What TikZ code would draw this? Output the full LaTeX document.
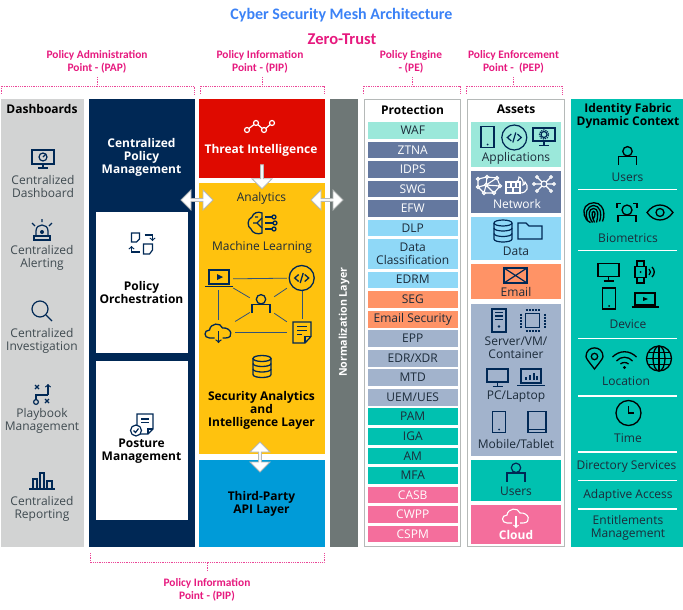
\documentclass[tikz,border=0pt]{standalone}
\usepackage{fontspec}
\setmainfont{Open Sans}
\newfontfamily\calfont{Carlito}
\usetikzlibrary{arrows,shapes.arrows}
\definecolor{titleblue}{HTML}{3B82F6}
\definecolor{zeropink}{HTML}{E6197E}
\definecolor{dashgrey}{HTML}{D2D3D3}
\definecolor{navyink}{HTML}{002855}
\definecolor{threatred}{HTML}{DF0A00}
\definecolor{layeryellow}{HTML}{FFC20E}
\definecolor{apiblue}{HTML}{009BD8}
\definecolor{normgrey}{HTML}{6E7776}
\definecolor{frameg}{HTML}{B5B9B8}
\definecolor{mintc}{HTML}{9BE8DA}
\definecolor{slatec}{HTML}{64789F}
\definecolor{skyc}{HTML}{8FD8F7}
\definecolor{orangec}{HTML}{FF9366}
\definecolor{steelc}{HTML}{A2B3CC}
\definecolor{tealc}{HTML}{00C1B0}
\definecolor{pinkc}{HTML}{F46E9C}
\definecolor{greytext}{HTML}{3F4A50}
\definecolor{inktext}{HTML}{1C2B3A}
\tikzset{
  panel/.style={rectangle, inner sep=0pt, minimum width=#1},
  framebox/.style={rectangle, draw=frameg, line width=1.4pt, fill=white, inner sep=0pt, minimum width=96.5pt, minimum height=447pt},
  item/.style={rectangle, inner sep=0pt, minimum width=90.5pt, minimum height=17.5pt, fill=#1, draw=white, line width=0.2pt, font=\fontsize{12}{12.8}\selectfont, text=inktext, align=center},
  asset/.style={rectangle, inner sep=0pt, minimum width=90.5pt, fill=#1},
  lbl/.style={inner sep=0pt, align=center, font=\fontsize{12}{13}\selectfont, text=greytext},
  boldlbl/.style={inner sep=0pt, align=center, font=\fontsize{12}{13}\selectfont\bfseries, text=#1},
  pinklbl/.style={inner sep=0pt, align=center, font=\calfont\fontsize{11.4}{13}\selectfont\bfseries, text=zeropink},
  bracket/.style={draw=zeropink!80, densely dotted, line width=0.8pt},
  sepbar/.style={rectangle, inner sep=0pt, fill=white, minimum width=99pt, minimum height=1.4pt},
  bigarrow/.style={double arrow, draw=frameg, fill=white, line width=0.8pt, inner sep=0pt, double arrow head extend=2.5pt, minimum width=20pt, minimum height=#1},
  hubspot/.style={rectangle, inner sep=0pt, minimum width=#1},
  hubline/.style={draw=navyink!80, line width=0.8pt},
  usericon/.pic={\draw (0,-4.7) circle[radius=4.7pt]; \draw (-9,9) -- (-9,0.5) -- (9,0.5) -- (9,9);},
  gaugeicon/.pic={\draw (-11,-8) rectangle (11,6); \draw (0,6) -- (0,10) (-5,10) -- (5,10); \draw (0,-1) circle[radius=4pt]; \draw (0,-1) -- (3,-4);},
  alarmicon/.pic={\draw (-6,5) -- (-6,0) .. controls (-6,-8) and (6,-8) .. (6,0) -- (6,5); \draw (-8,5) rectangle (8,9); \draw (-10,-8) -- (-7,-5) (0,-12) -- (0,-9) (10,-8) -- (7,-5); \fill (0,1) circle[radius=2pt];},
  lensicon/.pic={\draw (-2,-2) circle[radius=8pt]; \draw (4,4) -- (10,10);},
  playicon/.pic={\draw (-6,8) circle[radius=2.4pt]; \draw (-6,5.6) -- (-6,1) -- (6,1); \draw[->] (6,1) -- (6,-10); \draw (-7,-9) -- (-3,-5) (-7,-5) -- (-3,-9) (3,5) -- (7,9) (3,9) -- (7,5);},
  barsicon/.pic={\draw (-13,8) -- (13,8); \draw (-9,8) -- (-9,-2) -- (-5,-2) -- (-5,8) (-2,8) -- (-2,-8) -- (2,-8) -- (2,8) (5,8) -- (5,0) -- (10,0) -- (10,8);},
  syncicon/.pic={\draw (-10,-10) -- (-2,-10) -- (-2,-4) -- (-5,-1) -- (-10,-1) -- cycle; \draw (2,1) -- (11,1) -- (11,7) -- (8,11) -- (2,11) -- cycle; \draw[->] (3,-8) -- (11,-8) -- (11,-2); \draw[->] (-2,9) -- (-10,9) -- (-10,3);},
  postureicon/.pic={\draw (-4,-11) -- (12,-11) -- (12,4) -- (7,9) -- (-4,9) -- cycle; \draw (7,9) -- (7,4) -- (12,4); \draw (0,-6) -- (8,-6) (0,-2.5) -- (8,-2.5); \draw[fill=white] (-5,5.5) circle[radius=5.5pt]; \draw (-7.5,5.5) -- (-5.5,7.5) -- (-2.5,3.5);},
  trendicon/.pic={\draw (-13,4) -- (-4,-3) -- (4,4) -- (12,-3); \draw[fill=threatred] (-13,4) circle[radius=2.5pt] (-4,-3) circle[radius=2.5pt] (4,4) circle[radius=2.5pt] (12,-3) circle[radius=2.5pt];},
  brainicon/.pic={\draw (-1,-10) .. controls (-5,-12) and (-10,-10) .. (-11,-6) .. controls (-16,-4) and (-16,4) .. (-12,6) .. controls (-11,10) and (-5,12) .. (-1,10) -- cycle; \draw (-1,5) -- (-6,0) -- (-1,-5) (-6,0) -- (-10,0) (-8,-6) -- (-5,-6); \draw (2,-6) -- (9,-6) (2,0) -- (10,0) (2,6) -- (9,6); \draw (11,-6) circle[radius=2pt] (12,0) circle[radius=2pt] (11,6) circle[radius=2pt];},
  laptopicon/.pic={\draw (-10,-7) rectangle (10,7); \draw (-14,9.5) -- (14,9.5); \fill (-2,-3) -- (4,0) -- (-2,3) -- cycle;},
  codeicon/.pic={\draw (0,0) circle[radius=12.5pt]; \draw (-3,-3.5) -- (-7,0) -- (-3,3.5) (3,-3.5) -- (7,0) -- (3,3.5) (1.5,-5) -- (-1.5,5);},
  cloudicon/.pic={\draw (-4,5) -- (-9,5) .. controls (-15,5) and (-15,-3) .. (-9,-3) .. controls (-8,-10) and (2,-11) .. (4,-5) .. controls (13,-6) and (16,5) .. (7,5) -- (4,5); \draw[->] (0,-2) -- (0,10);},
  noteicon/.pic={\draw (-9,-10.5) -- (9,-10.5) -- (9,4) -- (3,10.5) -- (-9,10.5) -- cycle; \draw (3,10.5) -- (3,4) -- (9,4); \draw (-5,-6) -- (5,-6) (-5,-2) -- (5,-2) (-5,2) -- (0,2);},
  dbicon/.pic={\draw (0,-8) ellipse[x radius=9pt, y radius=3pt]; \draw (-9,-8) -- (-9,8) .. controls (-9,12) and (9,12) .. (9,8) -- (9,-8); \draw (-9,-3) .. controls (-9,1) and (9,1) .. (9,-3) (-9,2.5) .. controls (-9,6.5) and (9,6.5) .. (9,2.5);},
  phoneicon/.pic={\draw (-6.5,-10.5) rectangle (6.5,10.5); \fill (0,7.5) circle[radius=1pt];},
  tableticon/.pic={\draw (-9,-10.5) rectangle (9,10.5); \draw (-9,7.5) -- (9,7.5);},
  gearicon/.pic={\draw (-11,-9) rectangle (11,4); \draw (0,4) -- (0,8) (-5,8.5) -- (5,8.5); \draw (0,-2.5) circle[radius=3pt]; \draw[densely dotted] (0,-2.5) circle[radius=4.6pt];},
  meshicon/.pic={\draw (-11,-6) -- (-2,-8) -- (8,-7) -- (11,1) -- (5,8) -- (-5,8) -- (-11,2) -- cycle (-2,-8) -- (-3,0) -- (5,8) (-3,0) -- (8,-7) (-3,0) -- (-11,2) (-3,0) -- (-5,8) (-3,0) -- (11,1); \draw[fill=slatec] (-11,-6) circle[radius=1.5pt] (-2,-8) circle[radius=1.5pt] (8,-7) circle[radius=1.5pt] (11,1) circle[radius=1.5pt] (5,8) circle[radius=1.5pt] (-5,8) circle[radius=1.5pt] (-11,2) circle[radius=1.5pt] (-3,0) circle[radius=1.5pt];},
  wallicon/.pic={\draw (-11,-3) rectangle (3,8); \draw (-11,2.5) -- (3,2.5) (-6,-3) -- (-6,2.5) (-1,-3) -- (-1,2.5) (-4,2.5) -- (-4,8); \draw (3,8) .. controls (11,8) and (12,1) .. (8,-3) .. controls (8,-1) and (7,0) .. (6,0) .. controls (7,-4) and (5,-7) .. (2,-8) .. controls (3,-5) and (0,-4) .. (-1,-3);},
  hubicon/.pic={\draw (0,0) circle[radius=3pt]; \draw (2,-2) -- (6,-6) (3,0) -- (9,0) (2,2) -- (6,6) (-2,2) -- (-6,6) (-2,-2) -- (-6,-6) (-3,0) -- (-9,0); \draw (7,-7) circle[radius=1.4pt] (10,0) circle[radius=1.4pt] (7,7) circle[radius=1.4pt] (-7,7) circle[radius=1.4pt] (-7,-7) circle[radius=1.4pt] (-10,0) circle[radius=1.4pt];},
  foldericon/.pic={\draw (-12,-8) -- (-4,-8) -- (-1,-5) -- (12,-5) -- (12,8) -- (-12,8) -- cycle;},
  mailicon/.pic={\draw (-11.5,-7.5) rectangle (11.5,7.5); \draw (-11.5,-7.5) -- (11.5,7.5) (-11.5,7.5) -- (11.5,-7.5);},
  servericon/.pic={\draw (-7,-11.5) rectangle (7,11.5); \draw (-4,-8) -- (4,-8) (-4,-4.5) -- (4,-4.5) (-4,-1) -- (4,-1); \fill (0,6) circle[radius=1.4pt];},
  chipicon/.pic={\draw (-7,-7) rectangle (7,7); \draw[densely dotted, line width=2pt] (-7,-10.5) -- (7,-10.5) (-7,10.5) -- (7,10.5) (-12,-7) -- (-12,7) (12,-7) -- (12,7);},
  screenicon/.pic={\draw (-10.5,-9) rectangle (10.5,4); \draw (0,4) -- (0,8) (-5,8.5) -- (5,8.5);},
  charticon/.pic={\draw (-10,-8) rectangle (10,6); \draw (-14,8.5) -- (14,8.5); \draw (-5,3) -- (-5,0) (-1,3) -- (-1,-2) (3,3) -- (3,-4) (6,3) -- (6,-1);},
  printicon/.pic={\draw (-3,10) .. controls (-10,7) and (-11,-2) .. (-8,-6) .. controls (-4,-11) and (5,-11) .. (8,-6) .. controls (11,-2) and (11,4) .. (9,9); \draw (-6,8) .. controls (-9,2) and (-7,-6) .. (0,-7) .. controls (6,-7) and (9,0) .. (6,9); \draw (-1,10) .. controls (-6,3) and (-5,-4) .. (0,-4) .. controls (5,-4) and (5,2) .. (3,10); \draw (1,10) .. controls (-2,4) and (-2,-1) .. (0,-1) .. controls (2,-1) and (2,3) .. (0,6);},
  faceicon/.pic={\draw (0,-2.5) circle[radius=5pt]; \draw (-9,9) -- (-9,3) -- (9,3) -- (9,9); \draw (-10,-5) -- (-10,-9) -- (-6,-9) (6,-9) -- (10,-9) -- (10,-5);},
  eyeicon/.pic={\draw (-13,0) .. controls (-6,-10) and (6,-10) .. (13,0) .. controls (6,10) and (-6,10) .. (-13,0) -- cycle; \draw (0,0) circle[radius=4pt];},
  watchicon/.pic={\draw (-8,-5.5) rectangle (3,5.5); \draw (-6,-5.5) -- (-6,-11) -- (1,-11) -- (1,-5.5) (-6,5.5) -- (-6,11) -- (1,11) -- (1,5.5); \fill (-2.5,0) circle[radius=1pt]; \draw (6,-3) .. controls (8,-1) and (8,1) .. (6,3) (9,-5) .. controls (12,-2) and (12,2) .. (9,5);},
  videoicon/.pic={\draw (-10,-7) rectangle (10,5); \draw (-13.5,7) -- (13.5,7); \fill (-2,-3) -- (3,-1) -- (-2,1) -- cycle;},
  pinicon/.pic={\draw (0,10.5) .. controls (-5,4) and (-8.5,0) .. (-8.5,-2) .. controls (-8.5,-13.5) and (8.5,-13.5) .. (8.5,-2) .. controls (8.5,0) and (5,4) .. (0,10.5) -- cycle; \draw (0,-2) circle[radius=3.2pt];},
  wifiicon/.pic={\draw (-12,-3) .. controls (-5,-10) and (5,-10) .. (12,-3) (-8,1) .. controls (-4,-4) and (4,-4) .. (8,1) (-4,4) .. controls (-2,2) and (2,2) .. (4,4); \fill (0,7.5) circle[radius=1.6pt];},
  globeicon/.pic={\draw (0,0) circle[radius=12.5pt]; \draw (0,0) ellipse[x radius=6pt, y radius=12.5pt]; \draw (0,-12.5) -- (0,12.5) (-12.5,0) -- (12.5,0) (-11,-6) -- (11,-6) (-11,6) -- (11,6);},
  clockicon/.pic={\draw (0,0) circle[radius=12.5pt]; \draw (0,-7) -- (0,0) -- (5,0);}
}
\begin{document}
\begin{tikzpicture}[x=1pt, y=-1pt]
\useasboundingbox (0,0) rectangle (683,610);

\node (title) at (341.5,15) [inner sep=0pt, font=\calfont\fontsize{16}{18}\selectfont\bfseries, text=titleblue] {Cyber Security Mesh Architecture};
\node (zero) at (342,39) [inner sep=0pt, font=\calfont\fontsize{16.5}{18}\selectfont\bfseries, text=zeropink] {Zero-Trust};

\node (paplabel) at (97,61.5) [pinklbl] {Policy Administration\\Point - (PAP)};
\node (piplabel) at (260,61.5) [pinklbl] {Policy Information\\Point - (PIP)};
\node (pelabel) at (411,61.5) [pinklbl] {Policy Engine\\- (PE)};
\node (peplabel) at (513.5,61.5) [pinklbl] {Policy Enforcement\\Point -\ \ (PEP)};
\node (pipbottom) at (207,589.5) [pinklbl] {Policy Information\\Point - (PIP)};

\coordinate (papa) at (1,94);
\coordinate (papb) at (194,94);
\coordinate (papc) at (97,77);
\coordinate (pipa) at (200,94);
\coordinate (pipb) at (324,94);
\coordinate (pipc) at (262,77);
\coordinate (pea) at (363,94);
\coordinate (peb) at (460,94);
\coordinate (pec) at (412,77);
\coordinate (pepa) at (466,94);
\coordinate (pepb) at (562,94);
\coordinate (pepc) at (513.5,77);
\coordinate (bota) at (90,553);
\coordinate (botb) at (324,553);
\coordinate (botc) at (207,571);
\draw[bracket] (papa) -- ++(0,-8) -| (papb);
\draw[bracket] (papc) -- ++(0,9);
\draw[bracket] (pipa) -- ++(0,-8) -| (pipb);
\draw[bracket] (pipc) -- ++(0,9);
\draw[bracket] (pea) -- ++(0,-8) -| (peb);
\draw[bracket] (pec) -- ++(0,9);
\draw[bracket] (pepa) -- ++(0,-8) -| (pepb);
\draw[bracket] (pepc) -- ++(0,9);
\draw[bracket] (bota) -- ++(0,9.5) -| (botb);
\draw[bracket] (botc) -- ++(0,-8.5);

\node (dash) at (42.5,323) [panel=83pt, minimum height=448pt, fill=dashgrey] {};
\node (polmgmt) at (141.5,323) [panel=106pt, minimum height=448pt, fill=navyink] {};
\node (orchbox) at (141.75,282.5) [panel=92.5pt, minimum height=141pt, fill=white] {};
\node (posturebox) at (141.75,440.25) [panel=92.5pt, minimum height=159.5pt, fill=white] {};
\node (threat) at (261.5,138.5) [panel=126pt, minimum height=79pt, fill=threatred] {};
\node (analytics) at (261.5,318.5) [panel=126pt, minimum height=271pt, fill=layeryellow] {};
\node (apilayer) at (261.5,503.5) [panel=126pt, minimum height=87pt, fill=apiblue] {};
\node (norm) at (343.75,323) [panel=28.5pt, minimum height=448pt, fill=normgrey] {};
\node (protection) at (412.5,323) [framebox] {};
\node (assets) at (516,323) [framebox] {};
\node (fabric) at (626.75,323) [panel=112.5pt, minimum height=448pt, fill=tealc] {};

\node (dashhead) at (42,109) [boldlbl=black] {Dashboards};
\node (cdash) at (43,186.5) [lbl] {Centralized\\Dashboard};
\node (calert) at (42,257.5) [lbl] {Centralized\\Alerting};
\node (cinv) at (42,340.5) [lbl] {Centralized\\Investigation};
\node (cplay) at (42,420.5) [lbl] {Playbook\\Management};
\node (creport) at (42,508.5) [lbl] {Centralized\\Reporting};
\begin{scope}[color=navyink, line width=1.2pt]
\pic at (43,158) {gaugeicon};
\pic at (42,231) {alarmicon};
\pic at (42,311) {lensicon};
\pic at (42,394) {playicon};
\pic at (42,481) {barsicon};
\pic at (141.5,243) {syncicon};
\pic at (141,425) {postureicon};
\end{scope}
\node (cpm) at (141.5,157) [boldlbl=white] {Centralized\\Policy\\Management};
\node (orchtext) at (141.5,292) [boldlbl=black] {Policy\\Orchestration};
\node (posttext) at (141.5,451) [boldlbl=black] {Posture\\Management};

\node (threattext) at (261,150) [boldlbl=white] {Threat Intelligence};
\begin{scope}[color=white, line width=1.2pt]
\pic at (260,126) {trendicon};
\end{scope}
\node (analyticstext) at (261.5,198) [lbl, text=inktext] {Analytics};
\node (mltext) at (262,247) [lbl, text=inktext] {Machine Learning};
\node (sectext) at (261.5,410.5) [boldlbl=black] {Security Analytics\\and\\Intelligence Layer};
\node (apitext) at (261.5,503.5) [boldlbl=black] {Third-Party\\API Layer};

\node (hublap) at (218,279) [hubspot=30pt, minimum height=22pt] {};
\node (hubcode) at (302,278) [hubspot=30pt, minimum height=24pt] {};
\node (hubuser) at (262,305) [hubspot=24pt, minimum height=20pt] {};
\node (hubcloud) at (218,332) [hubspot=34pt, minimum height=24pt] {};
\node (hubnote) at (302,332) [hubspot=30pt, minimum height=26pt] {};
\draw[hubline] (hublap) -- (hubcode);
\draw[hubline] (hublap) -- (hubcloud);
\draw[hubline] (hubcode) -- (hubnote);
\draw[hubline] (hubcloud) -- (hubnote);
\draw[hubline] (hublap) -- (hubuser);
\draw[hubline] (hubcode) -- (hubuser);
\draw[hubline] (hubcloud) -- (hubuser);
\draw[hubline] (hubnote) -- (hubuser);
\begin{scope}[color=navyink, line width=1.3pt]
\pic at (263,223) {brainicon};
\pic at (219,277) {laptopicon};
\pic at (301.7,278) {codeicon};
\pic at (261,304) {usericon};
\pic at (218.5,333) {cloudicon};
\pic at (302,332.5) {noteicon};
\pic at (262,366.5) {dbicon};
\end{scope}

\node (toparrow) at (262,176) [bigarrow=24pt, single arrow, single arrow head extend=2.5pt, shape border rotate=270] {};
\node (leftarrow) at (197,200) [bigarrow=32pt] {};
\node (rightarrow) at (327,200) [bigarrow=32pt] {};
\node (apiarrow) at (260,457) [bigarrow=30pt, rotate=90] {};

\node (normtext) at (344,322) [boldlbl=white, font=\fontsize{10.7}{13}\selectfont\bfseries, rotate=90] {Normalization Layer};

\node (prothead) at (412.5,109.5) [boldlbl=black] {Protection};
\node (waf) at (412.75,130.25) [item=mintc] {WAF};
\node (ztna) at (412.75,149.75) [item=slatec, text=white] {ZTNA};
\node (idps) at (412.75,169.25) [item=slatec, text=white] {IDPS};
\node (swg) at (412.75,188.75) [item=slatec, text=white] {SWG};
\node (efw) at (412.75,208.25) [item=slatec, text=white] {EFW};
\node (dlp) at (412.75,227.75) [item=skyc] {DLP};
\node (dataclass) at (412.75,253.75) [item=skyc, minimum height=30.5pt] {Data\\Classification};
\node (edrm) at (412.75,279.5) [item=skyc] {EDRM};
\node (seg) at (412.75,299.25) [item=orangec] {SEG};
\node (emailsec) at (412.75,319) [item=orangec] {Email Security};
\node (epp) at (412.75,338.25) [item=steelc] {EPP};
\node (edrxdr) at (412.75,358) [item=steelc] {EDR/XDR};
\node (mtd) at (412.75,377.25) [item=steelc] {MTD};
\node (uem) at (412.75,397) [item=steelc] {UEM/UES};
\node (pam) at (412.75,416.25) [item=tealc] {PAM};
\node (iga) at (412.75,436) [item=tealc] {IGA};
\node (am) at (412.75,455.75) [item=tealc] {AM};
\node (mfa) at (412.75,475) [item=tealc] {MFA};
\node (casb) at (412.75,494.75) [item=pinkc, text=white] {CASB};
\node (cwpp) at (412.75,514.25) [item=pinkc, text=white] {CWPP};
\node (cspm) at (412.75,533.75) [item=pinkc, text=white] {CSPM};

\node (assethead) at (516,109.5) [boldlbl=black] {Assets};
\node (appbox) at (515.75,144.25) [asset=mintc, minimum height=45.5pt] {};
\node (netbox) at (515.75,191.75) [asset=slatec, minimum height=42.5pt] {};
\node (databox) at (515.75,238.5) [asset=skyc, minimum height=43pt] {};
\node (mailbox) at (515.75,281.5) [asset=orangec, minimum height=35pt] {};
\node (srvbox) at (515.75,379.75) [asset=steelc, minimum height=152.5pt] {};
\node (usrbox) at (515.75,480.25) [asset=tealc, minimum height=40.5pt] {};
\node (cldbox) at (515.75,524.5) [asset=pinkc, minimum height=39pt] {};
\node (apptext) at (516,158) [lbl, text=inktext] {Applications};
\node (nettext) at (517,203.5) [lbl, text=white] {Network};
\node (datatext) at (516,251) [lbl, text=inktext] {Data};
\node (mailtext) at (516,292) [lbl, text=inktext] {Email};
\node (srvtext) at (516,348) [lbl, text=inktext] {Server/VM/\\Container};
\node (pctext) at (516,397) [lbl, text=inktext] {PC/Laptop};
\node (mobtext) at (516,444) [lbl, text=inktext] {Mobile/Tablet};
\node (usrtext) at (516,491) [lbl, text=inktext] {Users};
\node (cldtext) at (516,535) [boldlbl=white] {Cloud};
\begin{scope}[color=navyink, line width=1.2pt]
\pic at (487.5,137) {phoneicon};
\pic at (514.3,137.5) {codeicon};
\pic at (544,137) {gearicon};
\pic at (503,231) {dbicon};
\pic at (530,231) {foldericon};
\pic at (515.5,275.5) {mailicon};
\pic at (499,320.5) {servericon};
\pic at (532.5,320.5) {chipicon};
\pic at (497.5,378) {screenicon};
\pic at (531,377) {charticon};
\pic at (499,422) {phoneicon};
\pic at (537,422) {tableticon};
\pic at (516,472.5) {usericon};
\end{scope}
\begin{scope}[color=white, line width=1.1pt]
\pic at (489,185) {meshicon};
\pic at (517,185) {wallicon};
\pic at (544,184) {hubicon};
\pic at (516,518) {cloudicon};
\end{scope}

\node (fabrichead) at (628,115.5) [boldlbl=black] {Identity Fabric\\Dynamic Context};
\node (fusers) at (627.5,177) [lbl, text=inktext] {Users};
\node (fbio) at (628,238) [lbl, text=inktext] {Biometrics};
\node (fdevice) at (628,324) [lbl, text=inktext] {Device};
\node (flocation) at (626,381) [lbl, text=inktext] {Location};
\node (ftime) at (628,438) [lbl, text=inktext] {Time};
\node (fdir) at (626.5,467) [lbl, text=inktext] {Directory Services};
\node (fadapt) at (628,495) [lbl, text=inktext] {Adaptive Access};
\node (fent) at (628,528) [lbl, text=inktext] {Entitlements\\Management};
\node (sepa) at (627.5,189.5) [sepbar] {};
\node (sepb) at (627.5,250.7) [sepbar] {};
\node (sepc) at (627.5,338.7) [sepbar] {};
\node (sepd) at (627.5,396) [sepbar] {};
\node (sepe) at (627.5,452) [sepbar] {};
\node (sepf) at (627.5,480.3) [sepbar] {};
\node (sepg) at (627.5,509) [sepbar] {};
\begin{scope}[color=black, line width=1.3pt]
\pic at (627.5,156) {usericon};
\pic at (593.5,212.5) {printicon};
\pic at (627,212.5) {faceicon};
\pic at (660,212.5) {eyeicon};
\pic at (608.5,272.5) {screenicon};
\pic at (643,272) {watchicon};
\pic at (609,298.5) {phoneicon};
\pic at (645,300) {videoicon};
\pic at (594.5,358.5) {pinicon};
\pic at (624.5,360) {wifiicon};
\pic at (659,358.5) {globeicon};
\pic at (628.5,413) {clockicon};
\end{scope}
\end{tikzpicture}
\end{document}
